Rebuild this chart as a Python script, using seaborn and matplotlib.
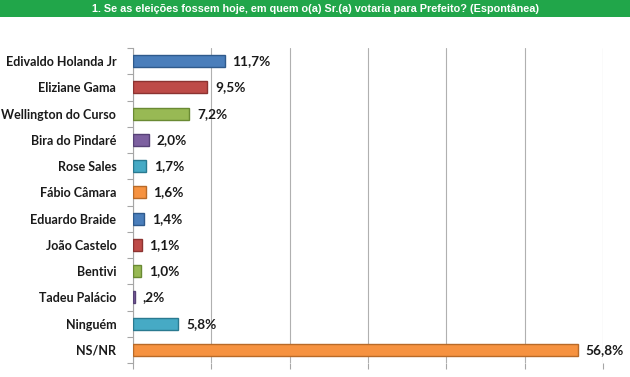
import numpy as np
import pandas as pd
import seaborn as sns
import matplotlib.pyplot as plt
from matplotlib.patches import Rectangle

candidatos = ['Edivaldo Holanda Jr', 'Eliziane Gama', 'Wellington do Curso', 'Bira do Pindaré',
              'Rose Sales', 'Fábio Câmara', 'Eduardo Braide', 'João Castelo', 'Bentivi',
              'Tadeu Palácio', 'Ninguém', 'NS/NR']
valores = [11.7, 9.5, 7.2, 2.0, 1.7, 1.6, 1.4, 1.1, 1.0, 0.2, 5.8, 56.8]
rotulos = ['11,7%', '9,5%', '7,2%', '2,0%', '1,7%', '1,6%', '1,4%', '1,1%', '1,0%', ',2%', '5,8%', '56,8%']
titulo = '1. Se as eleições fossem hoje, em quem o(a) Sr.(a) votaria para Prefeito? (Espontânea)'

cores = ['#4A7EBB', '#BE4B48', '#98B954', '#7D60A0', '#46AAC5', '#F69240']
bordas = ['#2F5A8C', '#8C3331', '#6A8A33', '#574277', '#2A7A90', '#B86A28']

df = pd.DataFrame({'cand': candidatos, 'val': valores})

sns.set_style('white', {'xtick.bottom': True, 'ytick.left': True})
plt.rcParams['font.family'] = ['Lato', 'DejaVu Sans']

fig = plt.figure(figsize=(6.3, 3.77), dpi=100)
# faixa verde do titulo
fig.patches.append(Rectangle((0, 1 - 17 / 377), 1, 17 / 377, transform=fig.transFigure,
                             facecolor='#21A64A', edgecolor='none', zorder=0))
fig.text(0.5, 1 - 8.5 / 377, titulo, ha='center', va='center', color='white',
         fontsize=7.8, fontweight='bold', family='Liberation Sans')

ax = fig.add_axes([133 / 630, 1 - 363 / 377, (603 - 133) / 630, (363 - 48) / 377])
pal = [cores[i % 6] for i in range(len(candidatos))]
sns.barplot(data=df, y='cand', x='val', hue='cand', palette=pal, legend=False,
            saturation=1, width=0.46, ax=ax, zorder=3)
for i, p in enumerate(ax.patches):
    p.set_edgecolor(bordas[i % 6])
    p.set_linewidth(1.0)

ax.set_xlim(0, 60)
ax.set_ylim(len(candidatos) - 0.5, -0.5)
ax.set_xticks(np.arange(0, 61, 10))
ax.set_xticklabels([])
ax.xaxis.grid(True, color='#B0B0B0', linewidth=0.8)
ax.yaxis.grid(False)
for s in ['top', 'right', 'bottom']:
    ax.spines[s].set_visible(False)
ax.spines['left'].set_color('#A6A6A6')
ax.set_xlabel('')
ax.set_ylabel('')
ax.set_yticks(range(len(candidatos)))
ax.set_yticklabels(candidatos, fontsize=9, fontweight='bold', color='#1a1a1a')
ax.set_yticks(np.arange(-0.5, len(candidatos), 1), minor=True)
ax.tick_params(axis='y', which='major', length=0, pad=12)
ax.tick_params(axis='y', which='minor', length=4, color='#A6A6A6', width=0.8, left=True)
ax.tick_params(axis='x', length=4, color='#A6A6A6', width=0.8, bottom=True)

for i, (v, r) in enumerate(zip(valores, rotulos)):
    ax.text(v + 1.0, i, r, va='center', ha='left', fontsize=9.8, fontweight='bold', color='#1a1a1a')

fig.savefig('out.png', dpi=100)
